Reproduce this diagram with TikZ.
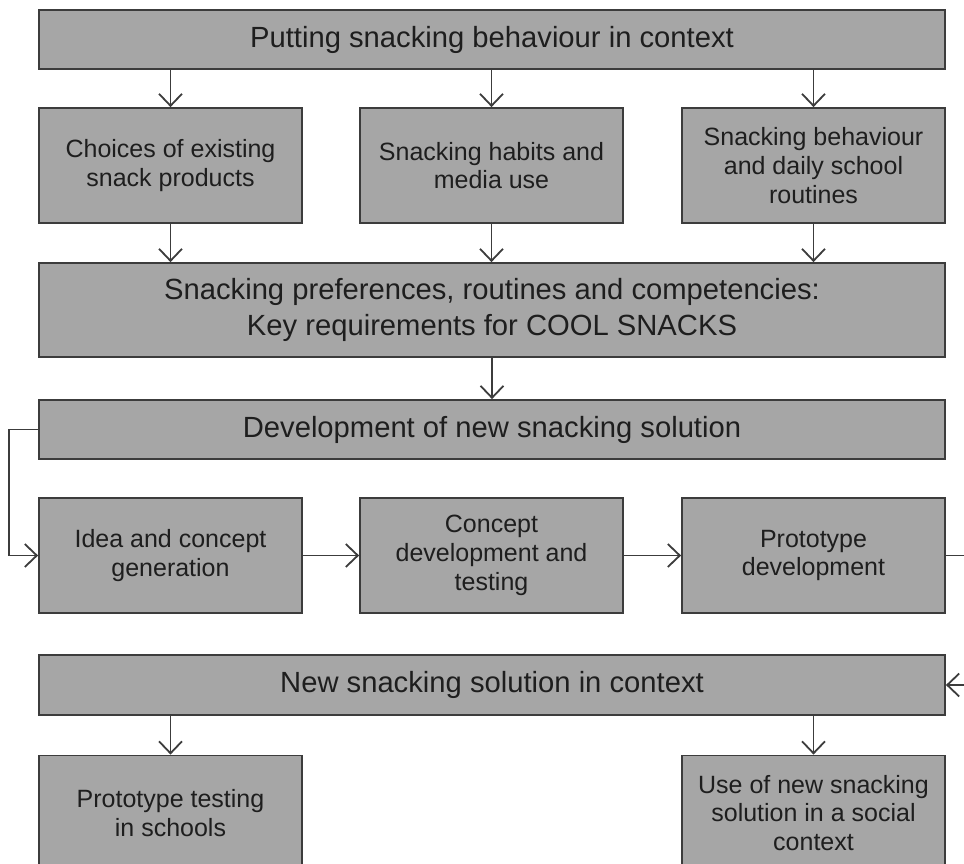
\documentclass[tikz,border=0pt]{standalone}
\usepackage{fontspec}
\setmainfont{Liberation Sans}
\usetikzlibrary{arrows.meta}
\definecolor{boxfill}{HTML}{A6A6A6}
\definecolor{boxline}{HTML}{3C3C3C}
\definecolor{txt}{HTML}{1E1E1E}
\begin{document}
\begin{tikzpicture}[x=1pt,y=-1pt,
  box/.style={draw=boxline, fill=boxfill, line width=1.8pt, inner sep=0pt, align=center, text=txt},
  wide/.style={box, minimum width=906pt, font=\fontsize{29.2}{36}\selectfont},
  small/.style={box, minimum width=263pt, minimum height=115pt, font=\fontsize{25}{28.8}\selectfont},
  conn/.style={draw=boxline, line width=1.8pt},
  arr/.style={conn, -{Straight Barb[length=12pt,width=23pt,line width=1.8pt]}}]
\useasboundingbox (0,0) rectangle (964,864);
\clip (0,0) rectangle (964,864);
\fill[white] (0,0) rectangle (964,864);
% top
\node[wide, minimum height=59pt] (T) at (492,39.5) {Putting snacking behaviour in context};
\node[small] (A) at (170.5,165.5) {Choices of existing\\snack products};
\node[small] (B) at (491.5,165.5) {Snacking habits and\\media use};
\node[small] (C) at (813.5,165.5) {Snacking behaviour\\and daily school\\routines};
\node[wide, minimum height=94pt] (K) at (492,310) {Snacking preferences, routines and competencies:\\Key requirements for COOL SNACKS};
\node[wide, minimum height=59pt] (D) at (492,429.5) {Development of new snacking solution};
\node[small] (E) at (170.5,555.5) {Idea and concept\\generation};
\node[small] (F) at (491.5,555.5) {Concept\\development and\\testing};
\node[small] (G) at (813.5,555.5) {Prototype\\development};
\node[wide, minimum height=60pt] (N) at (492,685) {New snacking solution in context};
\node[small] (P) at (170.5,813) {Prototype testing\\in schools};
\node[small] (Q) at (813.5,813) {Use of new snacking\\solution in a social\\context};
% arrows
\draw[arr] (T.south -| A.north) -- (A.north);
\draw[arr] (T.south -| B.north) -- (B.north);
\draw[arr] (T.south -| C.north) -- (C.north);
\draw[arr] (A.south) -- (A.south |- K.north);
\draw[arr] (B.south) -- (B.south |- K.north);
\draw[arr] (C.south) -- (C.south |- K.north);
\draw[arr] (K.south) -- (D.north);
\draw[arr] (D.west) -- ++(-29,0) |- (E.west);
\draw[arr] (E.east) -- (F.west);
\draw[arr] (F.east) -- (G.west);
\coordinate (R1) at (975,555.5);
\coordinate (R2) at (975,685);
\draw[conn] (G.east) -- (R1);
\draw[arr] (R2) -- (N.east);
\draw[arr] (N.south -| P.north) -- (P.north);
\draw[arr] (N.south -| Q.north) -- (Q.north);
\end{tikzpicture}
\end{document}
